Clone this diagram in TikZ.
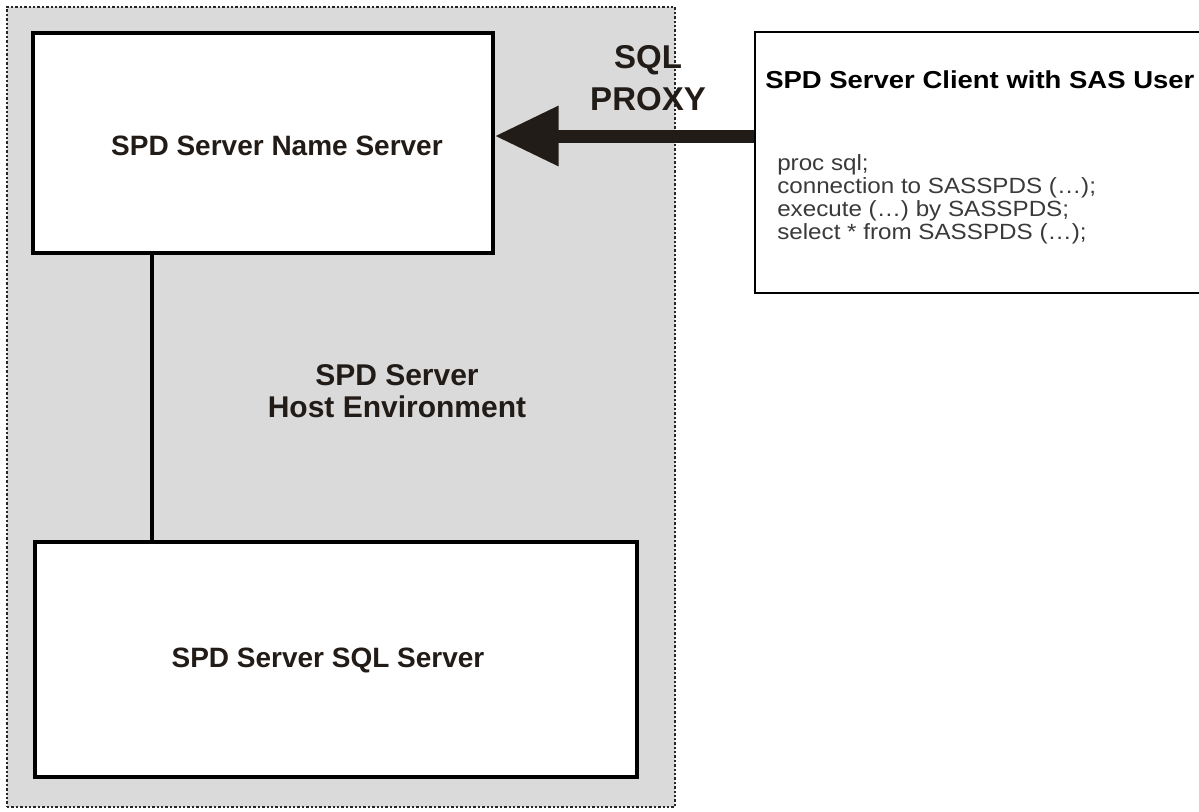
\documentclass[tikz,border=0pt]{standalone}
\usepackage{fontspec}
\setmainfont{Liberation Sans}
\usetikzlibrary{arrows.meta}
\definecolor{ink}{HTML}{221C18}
\definecolor{codeink}{HTML}{3A3A3A}
\definecolor{hostfill}{HTML}{DADADA}
\tikzset{
  srvbox/.style={draw=black, line width=2.5pt, fill=white, rectangle, inner sep=0pt},
  clientbox/.style={draw=black, line width=2.2pt, fill=white, rectangle, inner sep=0pt},
  hostbox/.style={draw=black!85, line width=2pt, dash pattern=on 1.8pt off 1.5pt, fill=hostfill, rectangle, inner sep=0pt},
  bigtext/.style={text=ink, font=\bfseries\fontsize{21pt}{25pt}\selectfont, inner sep=0pt},
  hosttext/.style={text=ink, font=\bfseries\fontsize{22.5pt}{24pt}\selectfont, align=center, inner sep=0pt},
  proxytext/.style={text=ink, font=\bfseries\fontsize{24.75pt}{32pt}\selectfont, align=center, inner sep=0pt},
  titletext/.style={text=black, font=\bfseries\fontsize{18.4pt}{22pt}\selectfont, anchor=base west, inner sep=0pt},
  codetext/.style={text=codeink, font=\fontsize{16.5pt}{20pt}\selectfont, anchor=base west, inner sep=0pt},
  connector/.style={draw=black, line width=2.4pt},
  proxyarrow/.style={draw=ink, line width=9.75pt, -{Triangle[length=48pt,width=42.75pt]}}
}
\newcommand{\widen}[1]{\scalebox{1.12}[1]{#1}}
\begin{document}
\begin{tikzpicture}[x=0.75pt,y=-0.75pt]
\useasboundingbox (0,0) rectangle (1199,811);
\clip (0,0) rectangle (1199,811);
\fill[white] (0,0) rectangle (1199,811);
% host environment
\node[hostbox, minimum width=501pt, minimum height=600pt] (host) at (341,407) {};
\node[hosttext] (hostlabel) at (397,391) {SPD Server\\Host Environment};
% name server
\node[srvbox, minimum width=345pt, minimum height=165pt] (namesrv) at (263,143) {};
\node[bigtext] (namelabel) at (277,146) {SPD Server Name Server};
% sql server
\node[srvbox, minimum width=451.5pt, minimum height=176.25pt] (sqlsrv) at (336,659.5) {};
\node[bigtext] (sqllabel) at (328,660) {SPD Server SQL Server};
% vertical connector
\coordinate (vx) at (152,0);
\draw[connector] (vx |- namesrv.south) -- (vx |- sqlsrv.north);
% client box
\node[clientbox, minimum width=345pt, minimum height=195.75pt] (client) at (985,162.5) {};
\node[titletext] (title) at (765,88) {\widen{SPD Server Client with SAS User}};
\node[codetext] (c1) at (777,170) {\scalebox{1.1}[1]{proc sql;}};
\node[codetext] (c2) at (777,193) {\scalebox{1.1}[1]{connection to SASSPDS (\ldots);}};
\node[codetext] (c3) at (777,216) {\scalebox{1.1}[1]{execute (\ldots) by SASSPDS;}};
\node[codetext] (c4) at (777,239) {\scalebox{1.1}[1]{select * from SASSPDS (\ldots);}};
% proxy arrow
\coordinate (ay) at (0,136);
\draw[proxyarrow] (client.west |- ay) -- (namesrv.east |- ay);
\node[proxytext] (proxy) at (648,78) {SQL\\PROXY};
\end{tikzpicture}
\end{document}
